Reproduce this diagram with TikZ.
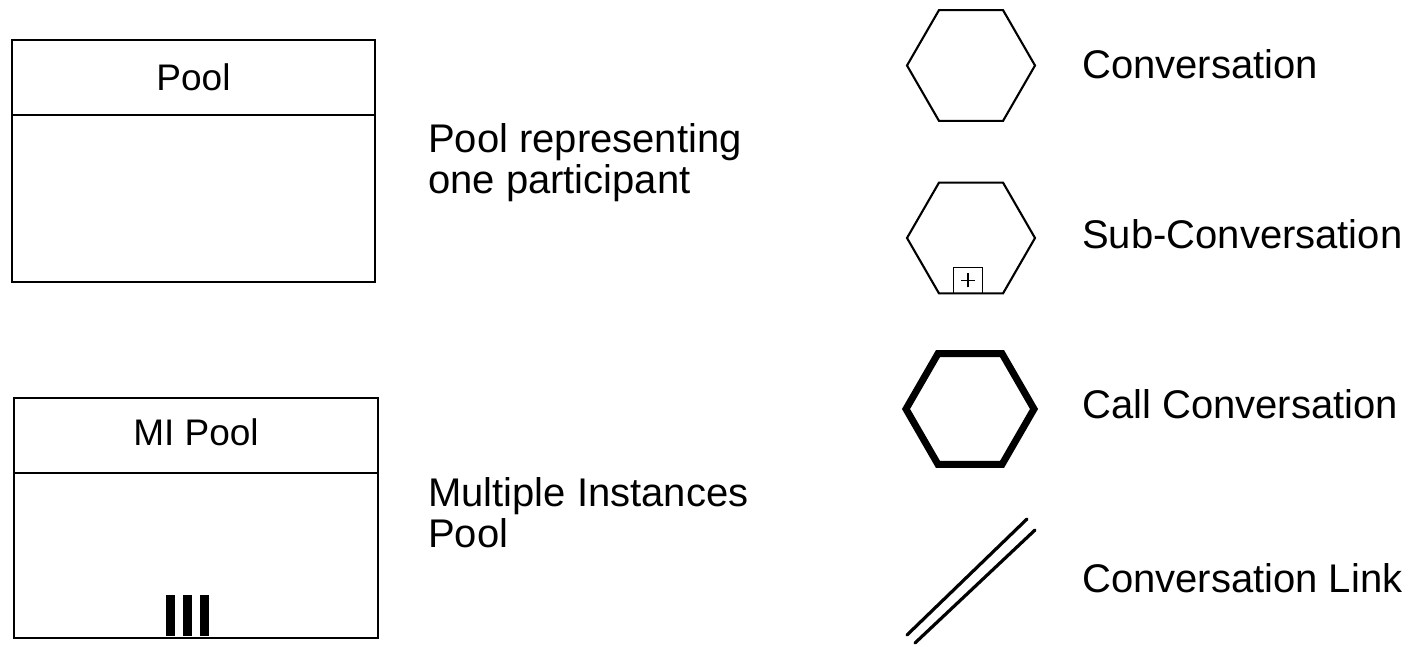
\documentclass[tikz,border=0pt]{standalone}
\usepackage{fontspec}
\setmainfont{Liberation Sans}
\usetikzlibrary{shapes.geometric}
\begin{document}
\begin{tikzpicture}[x=1pt,y=-1pt,
  lbl/.style={anchor=base west,inner sep=0pt,font=\fontsize{40}{41}\selectfont,align=left},
  ttl/.style={anchor=base,inner sep=0pt,font=\fontsize{37}{40}\selectfont},
  poolbox/.style={draw,line width=2.7pt},
  hexa/.style={regular polygon,regular polygon sides=6,minimum size=128pt,inner sep=0pt,outer sep=0pt,draw,line width=2.1pt},
  callhex/.style={hexa,line width=7pt},
  linkline/.style={line width=3.2pt,line cap=round}]
\useasboundingbox (0,0) rectangle (1413,646);
% Pool
\draw[poolbox] (12,40) rectangle (375,282);
\draw[poolbox] (12,115) -- (375,115);
\node[ttl] (pooltitle) at (193.5,90) {Pool};
\node[lbl,anchor=north west] (pooltxt) at (428,123) {Pool representing\\one participant};
% MI Pool
\draw[poolbox] (14,398) rectangle (378,638);
\draw[poolbox] (14,473) -- (378,473);
\node[ttl] (mititle) at (196,445) {MI Pool};
\fill (166,595) rectangle (175,636);
\fill (183,595) rectangle (192,636);
\fill (200,595) rectangle (209,636);
\node[lbl,anchor=north west] (mitxt) at (428,477) {Multiple Instances\\Pool};
% Conversation
\node[hexa] (conv) at (971,65.5) {};
\node[lbl] (convtxt) at (1082,78) {Conversation};
% Sub-Conversation
\node[hexa] (subconv) at (971,238) {};
\node[draw,line width=1.5pt,minimum width=29pt,minimum height=26pt,inner sep=0pt,anchor=south] (plusbox) at (968,294) {};
\draw[line width=1.5pt] ([xshift=-7pt]plusbox.center) -- ([xshift=7pt]plusbox.center)
  ([yshift=-7pt]plusbox.center) -- ([yshift=7pt]plusbox.center);
\node[lbl] (subtxt) at (1082,248) {Sub-Conversation};
% Call Conversation
\node[callhex] (call) at (970,409) {};
\node[lbl] (calltxt) at (1082,418) {Call Conversation};
% Conversation Link
\coordinate (la1) at (907,635);
\coordinate (la2) at (1027,519);
\coordinate (lb1) at (915,643);
\coordinate (lb2) at (1035,530);
\draw[linkline] (la1) -- (la2);
\draw[linkline] (lb1) -- (lb2);
\node[lbl] (linktxt) at (1082,592) {Conversation Link};
\end{tikzpicture}
\end{document}
